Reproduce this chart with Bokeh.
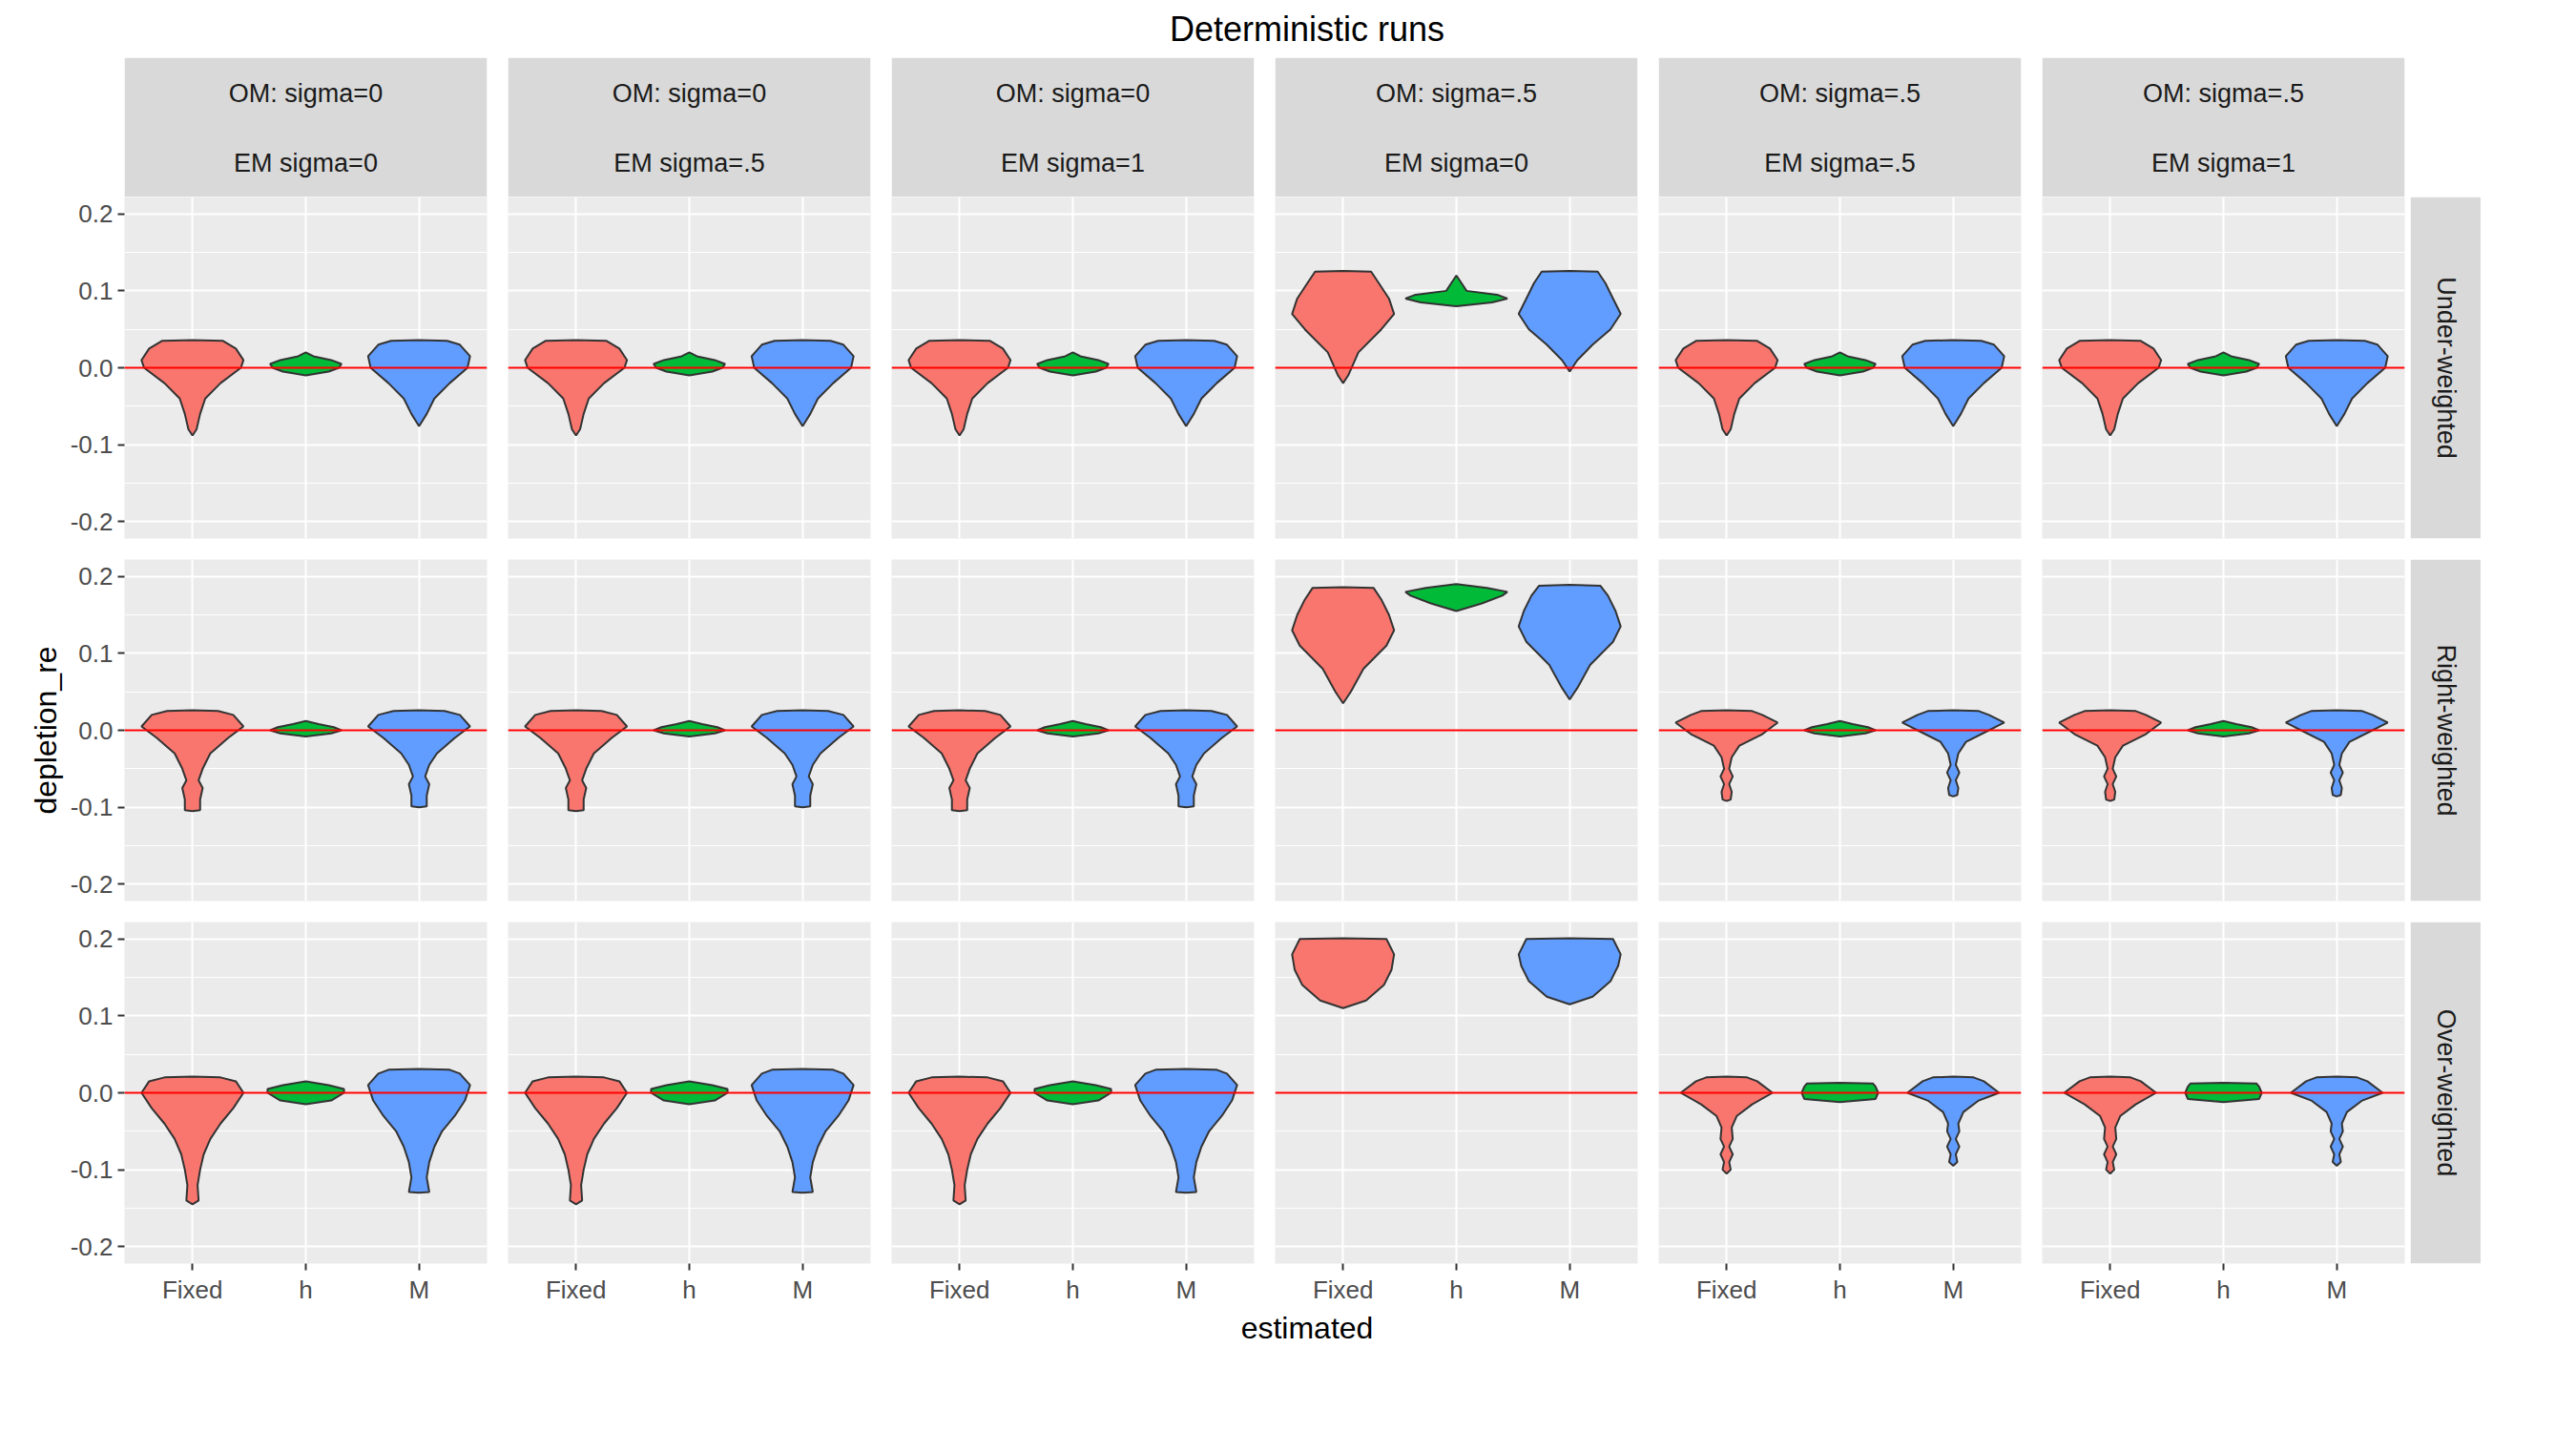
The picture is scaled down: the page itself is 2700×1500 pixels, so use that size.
from bokeh.plotting import figure
from bokeh.layouts import gridplot, column
from bokeh.models import Range1d, FixedTicker, NumeralTickFormatter, Span, Div
from bokeh.core.properties import value
from bokeh.embed import file_html
from bokeh.resources import INLINE
import math

# ---- data ----
title = "Deterministic runs"
om_labels = ["OM: sigma=0", "OM: sigma=0", "OM: sigma=0", "OM: sigma=.5", "OM: sigma=.5", "OM: sigma=.5"]
em_labels = ["EM sigma=0", "EM sigma=.5", "EM sigma=1", "EM sigma=0", "EM sigma=.5", "EM sigma=1"]
row_labels = ["Under-weighted", "Right-weighted", "Over-weighted"]
categories = ["Fixed", "h", "M"]
colors = ["#F8766D", "#00BA38", "#619CFF"]

# violin outlines: (depletion_re levels, relative half width)
shapes = {
    "uw_f": ([-0.088, -0.08, -0.06, -0.04, -0.02, 0.0, 0.01, 0.025, 0.035, 0.036],
             [0, 0.08, 0.15, 0.25, 0.55, 0.95, 1.0, 0.85, 0.6, 0]),
    "uw_h": ([-0.01, -0.005, 0.0, 0.005, 0.01, 0.015, 0.02], [0, 0.45, 0.65, 0.7, 0.5, 0.15, 0]),
    "uw_m": ([-0.076, -0.06, -0.04, -0.02, 0.0, 0.015, 0.03, 0.035, 0.036],
             [0, 0.15, 0.3, 0.6, 0.95, 1.0, 0.8, 0.55, 0]),
    "uw5_f": ([-0.02, -0.01, 0.02, 0.05, 0.07, 0.09, 0.11, 0.125, 0.126],
              [0, 0.1, 0.3, 0.75, 1.0, 0.9, 0.7, 0.55, 0]),
    "uw5_h": ([0.08, 0.085, 0.09, 0.095, 0.1, 0.11, 0.12], [0, 0.7, 1.0, 0.8, 0.2, 0.1, 0]),
    "uw5_m": ([-0.005, 0.01, 0.03, 0.05, 0.07, 0.09, 0.11, 0.125, 0.126],
              [0, 0.15, 0.45, 0.8, 1.0, 0.85, 0.7, 0.55, 0]),
    "rw_f": ([-0.105, -0.104, -0.09, -0.075, -0.065, -0.05, -0.03, -0.01, 0.005, 0.02, 0.025, 0.026],
             [0, 0.15, 0.15, 0.2, 0.12, 0.2, 0.35, 0.7, 1.0, 0.8, 0.5, 0]),
    "rw_h": ([-0.008, -0.004, 0.0, 0.004, 0.008, 0.012], [0, 0.5, 0.7, 0.55, 0.25, 0]),
    "rw_m": ([-0.1, -0.099, -0.085, -0.07, -0.06, -0.045, -0.03, -0.01, 0.005, 0.02, 0.025, 0.026],
             [0, 0.15, 0.15, 0.2, 0.12, 0.2, 0.35, 0.7, 1.0, 0.8, 0.5, 0]),
    "rw5_f": ([0.035, 0.05, 0.08, 0.11, 0.13, 0.15, 0.17, 0.185, 0.186],
              [0, 0.15, 0.4, 0.85, 1.0, 0.9, 0.75, 0.6, 0]),
    "rw5_h": ([0.155, 0.165, 0.175, 0.18, 0.185, 0.19], [0, 0.5, 0.9, 1.0, 0.6, 0]),
    "rw5_m": ([0.04, 0.055, 0.085, 0.115, 0.135, 0.155, 0.175, 0.188, 0.189],
              [0, 0.15, 0.4, 0.85, 1.0, 0.9, 0.75, 0.6, 0]),
    "rwx_f": ([-0.092, -0.09, -0.08, -0.07, -0.06, -0.05, -0.035, -0.02, -0.005, 0.01, 0.02, 0.025, 0.026],
              [0, 0.08, 0.1, 0.05, 0.12, 0.05, 0.1, 0.25, 0.7, 1.0, 0.7, 0.5, 0]),
    "rwx_m": ([-0.086, -0.084, -0.075, -0.065, -0.055, -0.045, -0.03, -0.015, 0.0, 0.01, 0.02, 0.025, 0.026],
              [0, 0.08, 0.1, 0.05, 0.12, 0.05, 0.1, 0.25, 0.7, 1.0, 0.7, 0.5, 0]),
    "ow_f": ([-0.145, -0.14, -0.12, -0.1, -0.08, -0.06, -0.04, -0.02, 0.0, 0.015, 0.02, 0.021],
             [0, 0.12, 0.1, 0.15, 0.22, 0.35, 0.55, 0.8, 1.0, 0.85, 0.55, 0]),
    "ow_h": ([-0.015, -0.01, 0.0, 0.005, 0.01, 0.015], [0, 0.5, 0.75, 0.75, 0.45, 0]),
    "ow_m": ([-0.13, -0.129, -0.11, -0.09, -0.07, -0.05, -0.03, -0.01, 0.01, 0.025, 0.03, 0.031],
             [0, 0.2, 0.15, 0.2, 0.3, 0.45, 0.7, 0.9, 1.0, 0.8, 0.6, 0]),
    "ow5_f": ([0.11, 0.12, 0.14, 0.16, 0.18, 0.2, 0.201], [0, 0.45, 0.8, 0.95, 1.0, 0.85, 0]),
    "ow5_m": ([0.115, 0.125, 0.145, 0.165, 0.18, 0.2, 0.201], [0, 0.45, 0.8, 0.95, 1.0, 0.85, 0]),
    "owx_f": ([-0.105, -0.1, -0.09, -0.08, -0.07, -0.06, -0.045, -0.03, -0.015, 0.0, 0.015, 0.02, 0.021],
              [0, 0.08, 0.05, 0.12, 0.05, 0.12, 0.1, 0.2, 0.5, 0.9, 0.6, 0.4, 0]),
    "owx_h": ([-0.012, -0.008, 0.0, 0.008, 0.012, 0.013], [0, 0.7, 0.75, 0.7, 0.65, 0]),
    "owx_m": ([-0.095, -0.09, -0.08, -0.07, -0.06, -0.05, -0.04, -0.025, -0.01, 0.0, 0.015, 0.02, 0.021],
              [0, 0.08, 0.05, 0.12, 0.05, 0.12, 0.1, 0.2, 0.5, 0.9, 0.6, 0.4, 0]),
}

uw = ("uw_f", "uw_h", "uw_m")
rw = ("rw_f", "rw_h", "rw_m")
rwx = ("rwx_f", "rw_h", "rwx_m")
ow = ("ow_f", "ow_h", "ow_m")
owx = ("owx_f", "owx_h", "owx_m")
panels = [
    [uw, uw, uw, ("uw5_f", "uw5_h", "uw5_m"), uw, uw],
    [rw, rw, rw, ("rw5_f", "rw5_h", "rw5_m"), rwx, rwx],
    [ow, ow, ow, ("ow5_f", None, "ow5_m"), owx, owx],
]

# ---- layout ----
FW, FH = 380, 358
LEFT, GAP = 130, 22
FONT = "Liberation Sans"
STRIP = "#D9D9D9"


def strip_top(col):
    p = figure(frame_width=FW, frame_height=146, x_range=Range1d(0, 1), y_range=Range1d(0, 1),
               toolbar_location=None, output_backend="svg", min_border_left=LEFT if col == 0 else 0,
               min_border_right=GAP if col < 5 else 6, min_border_top=0, min_border_bottom=0)
    p.quad(left=0, right=1, bottom=0, top=1, fill_color=STRIP, line_color=None)
    p.text(x=[0.5, 0.5], y=[0.74, 0.24], text=[om_labels[col], em_labels[col]], text_align="center",
           text_baseline="middle", text_font=value(FONT), text_font_size="27px", text_color="#1A1A1A")
    p.axis.visible = False
    p.grid.visible = False
    p.outline_line_color = None
    return p


def strip_right(row):
    p = figure(frame_width=74, frame_height=FH, x_range=Range1d(0, 1), y_range=Range1d(0, 1),
               toolbar_location=None, output_backend="svg", min_border_left=0, min_border_right=0,
               min_border_top=0, min_border_bottom=GAP if row < 2 else 60)
    p.quad(left=0, right=1, bottom=0, top=1, fill_color=STRIP, line_color=None)
    p.text(x=[0.5], y=[0.5], text=[row_labels[row]], angle=-math.pi / 2, text_align="center",
           text_baseline="middle", text_font=value(FONT), text_font_size="27px", text_color="#1A1A1A")
    p.axis.visible = False
    p.grid.visible = False
    p.outline_line_color = None
    return p


def panel(row, col):
    p = figure(frame_width=FW, frame_height=FH, x_range=Range1d(0.4, 3.6), y_range=Range1d(-0.222, 0.222),
               toolbar_location=None, output_backend="svg", background_fill_color="#EBEBEB",
               min_border_left=LEFT if col == 0 else 0, min_border_right=GAP if col < 5 else 6,
               min_border_top=0, min_border_bottom=GAP if row < 2 else 60)
    p.outline_line_color = None
    p.xaxis.ticker = FixedTicker(ticks=[1, 2, 3])
    p.xaxis.major_label_overrides = {1: "Fixed", 2: "h", 3: "M"}
    p.yaxis.ticker = FixedTicker(ticks=[-0.2, -0.1, 0.0, 0.1, 0.2],
                                 minor_ticks=[-0.15, -0.05, 0.05, 0.15])
    p.yaxis.formatter = NumeralTickFormatter(format="0.0")
    for ax in p.axis:
        ax.axis_line_color = None
        ax.major_tick_line_color = "#333333"
        ax.major_tick_line_width = 2
        ax.major_tick_out = 7
        ax.major_tick_in = 0
        ax.minor_tick_line_color = None
        ax.major_label_text_font = FONT
        ax.major_label_text_font_size = "26px"
        ax.major_label_text_color = "#4D4D4D"
        ax.axis_label_text_font = FONT
        ax.axis_label_text_font_style = "normal"
        ax.axis_label_text_font_size = "32px"
        ax.axis_label_text_color = "#000000"
    p.grid.grid_line_color = "white"
    p.grid.grid_line_width = 2
    p.ygrid.minor_grid_line_color = "white"
    p.ygrid.minor_grid_line_width = 1
    p.xaxis.visible = row == 2
    p.yaxis.visible = col == 0
    if col == 0 and row == 1:
        p.yaxis.axis_label = "depletion_re"
    for i, name in enumerate(panels[row][col]):
        if name is None:
            continue
        ys, ws = shapes[name]
        c = i + 1
        xs = [c + w * 0.45 for w in ws] + [c - w * 0.45 for w in reversed(ws)]
        yy = list(ys) + list(reversed(ys))
        p.patch(xs, yy, fill_color=colors[i], line_color="#333333", line_width=2)
    p.add_layout(Span(location=0, dimension="width", line_color="red", line_width=2))
    return p


rows = [[strip_top(c) for c in range(6)] + [None]]
for r in range(3):
    rows.append([panel(r, c) for c in range(6)] + [strip_right(r)])

grid = gridplot(rows, toolbar_location=None)
total_w = LEFT + 6 * FW + 5 * GAP + 6 + 74
head = Div(text=title, width=total_w, height=50,
           styles={"font-family": FONT, "font-size": "36px", "text-align": "center",
                   "padding-left": f"{LEFT}px", "color": "#000"})
foot = Div(text="estimated", width=total_w, height=44,
           styles={"font-family": FONT, "font-size": "32px", "text-align": "center",
                   "padding-left": f"{LEFT}px", "color": "#000", "margin-top": "-14px"})
page = column(head, grid, foot)
open("out.html", "w").write(file_html(page, INLINE))
